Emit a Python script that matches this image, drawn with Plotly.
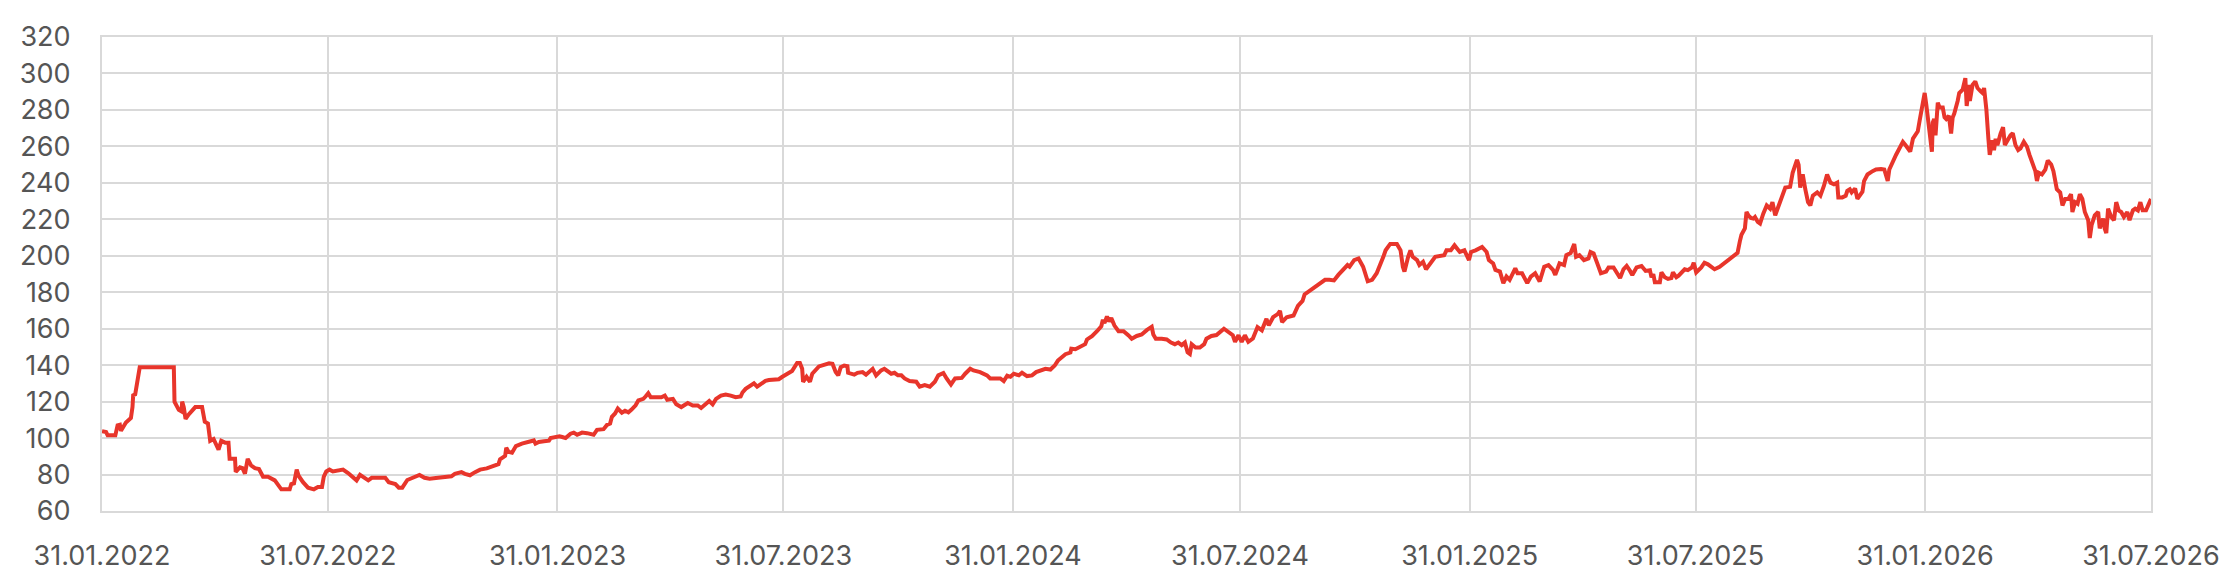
import pandas as pd
import plotly.graph_objects as go

# Tick dates (half-yearly) and their labels
tick_dates = ["2022-01-31", "2022-07-31", "2023-01-31", "2023-07-31", "2024-01-31",
              "2024-07-31", "2025-01-31", "2025-07-31", "2026-01-31", "2026-07-31"]
tick_labels = ["31.01.2022", "31.07.2022", "31.01.2023", "31.07.2023", "31.01.2024",
               "31.07.2024", "31.01.2025", "31.07.2025", "31.01.2026", "31.07.2026"]

# Time position of each observation, in half-years after 31.01.2022
t_pos = [
    0, 0.018, 0.025, 0.059, 0.069, 0.079, 0.084, 0.094, 0.106, 0.128, 0.135, 0.138, 0.147, 0.167,
    0.318, 0.321, 0.333, 0.340, 0.352, 0.355, 0.362, 0.370, 0.384, 0.413, 0.443, 0.455, 0.469,
    0.479, 0.494, 0.516, 0.528, 0.545, 0.560, 0.565, 0.589, 0.592, 0.611, 0.622, 0.633, 0.645,
    0.660, 0.677, 0.695, 0.713, 0.735, 0.765, 0.794, 0.831, 0.838, 0.85, 0.862, 0.871, 0.89,
    0.912, 0.938, 0.956, 0.974, 0.982, 0.993, 1.007, 1.022, 1.044, 1.066, 1.088, 1.11, 1.125,
    1.14, 1.154, 1.176, 1.191, 1.25, 1.265, 1.294, 1.309, 1.324, 1.346,
    # 2022 H2 - 2023 H1
    1.399, 1.421, 1.443, 1.480, 1.538, 1.553, 1.582, 1.597, 1.619, 1.641, 1.663, 1.692, 1.721,
    1.743, 1.750, 1.772, 1.777, 1.787, 1.802, 1.819, 1.845, 1.875, 1.897, 1.904, 1.919, 1.941,
    1.963, 1.970, 1.992, 2.009, 2.021, 2.036, 2.058, 2.072, 2.087, 2.109, 2.131, 2.160, 2.175,
    2.204, 2.219, 2.233, 2.241, 2.255, 2.267, 2.285, 2.299, 2.314, 2.328, 2.346, 2.358, 2.380,
    2.390, 2.402, 2.413, 2.438, 2.460, 2.475, 2.486, 2.511, 2.526, 2.548, 2.577, 2.599, 2.621,
    2.636, 2.658, 2.672, 2.687, 2.702, 2.724, 2.745, 2.767, 2.789, 2.811, 2.819, 2.833, 2.855,
    2.870, 2.884, 2.899, 2.921, 2.936, 2.958, 2.980, 2.994, 3.016, 3.038, 3.060,
    # 2023 H2 - 2024 H1
    3.072, 3.082, 3.086, 3.101, 3.116, 3.126, 3.140, 3.155, 3.177, 3.199, 3.214, 3.228, 3.239,
    3.250, 3.265, 3.279, 3.282, 3.309, 3.323, 3.345, 3.360, 3.375, 3.389, 3.404, 3.426, 3.440,
    3.455, 3.470, 3.484, 3.499, 3.514, 3.528, 3.550, 3.579, 3.594, 3.616, 3.638, 3.660, 3.675,
    3.697, 3.711, 3.730, 3.748, 3.777, 3.792, 3.814, 3.828, 3.857, 3.887, 3.901, 3.923, 3.945,
    3.960, 3.975, 3.989, 4.004, 4.026, 4.040, 4.062, 4.084, 4.102, 4.121, 4.143, 4.165, 4.184,
    4.198, 4.216, 4.231, 4.253, 4.257, 4.275, 4.296, 4.318, 4.326, 4.348, 4.370, 4.389, 4.396,
    4.403, 4.414, 4.424, 4.433, 4.447, 4.465, 4.487, 4.509, 4.523, 4.545, 4.567, 4.589, 4.611,
    4.618, 4.629, 4.655, 4.677, 4.696, 4.713, 4.728, 4.743, 4.757, 4.769, 4.779, 4.787, 4.804,
    4.823, 4.842, 4.852, 4.874, 4.896,
    # 2024 H2 - 2025 H2
    4.929, 4.948, 4.968, 4.978, 4.993, 5.007, 5.021, 5.036, 5.056, 5.076, 5.095, 5.115, 5.125,
    5.144, 5.164, 5.174, 5.183, 5.203, 5.233, 5.252, 5.272, 5.281, 5.301, 5.321, 5.350, 5.370,
    5.389, 5.409, 5.428, 5.448, 5.468, 5.477, 5.497, 5.516, 5.536, 5.556, 5.575, 5.595, 5.614,
    5.624, 5.634, 5.654, 5.683, 5.699, 5.709, 5.716, 5.732, 5.742, 5.752, 5.771, 5.781, 5.797,
    5.810, 5.830, 5.850, 5.889, 5.899, 5.918, 5.934, 5.957, 5.977, 5.997, 6.006, 6.026, 6.055,
    6.075, 6.085, 6.104, 6.114, 6.134, 6.149, 6.163, 6.177, 6.202, 6.212, 6.232, 6.255, 6.271,
    6.290, 6.310, 6.330, 6.349, 6.369, 6.379, 6.398, 6.418, 6.428, 6.447, 6.463, 6.471, 6.486,
    6.506, 6.526, 6.535, 6.549, 6.565, 6.581, 6.604,
    6.615, 6.637, 6.652, 6.666, 6.681, 6.695, 6.710, 6.720, 6.739, 6.761, 6.779, 6.798, 6.805,
    6.813, 6.820, 6.842, 6.849, 6.864, 6.878, 6.893, 6.900, 6.915, 6.925, 6.937, 6.952, 6.966,
    6.984, 6.992, 7.003, 7.025, 7.039, 7.054, 7.069, 7.083, 7.105, 7.127, 7.145, 7.164, 7.183,
    7.193, 7.200, 7.215, 7.222, 7.230, 7.241, 7.252, 7.259, 7.271, 7.281, 7.295, 7.310, 7.325,
    7.335, 7.347, 7.361, 7.376, 7.391, 7.412, 7.423, 7.442, 7.449, 7.456, 7.467, 7.478, 7.490,
    7.500, 7.511, 7.530, 7.544, 7.559, 7.573, 7.588, 7.603, 7.617, 7.622, 7.639, 7.654, 7.661,
    7.672, 7.680, 7.695, 7.705, 7.715, 7.727, 7.734, 7.749, 7.771, 7.786, 7.808, 7.822, 7.837,
    7.844, 7.873, 7.903,
    # 2026
    7.920, 7.935, 7.947, 7.961, 7.968, 7.976, 7.988, 7.998, 8.005, 8.020, 8.030, 8.034, 8.040,
    8.046, 8.056, 8.064, 8.078, 8.086, 8.093, 8.105, 8.115, 8.122, 8.129, 8.144, 8.151, 8.166,
    8.178, 8.184, 8.195, 8.198, 8.210, 8.222, 8.232, 8.246, 8.254, 8.261, 8.271, 8.280, 8.286,
    8.298, 8.305, 8.312, 8.320, 8.334, 8.345, 8.353, 8.364, 8.378, 8.388, 8.400, 8.412, 8.422,
    8.437, 8.451, 8.462, 8.473, 8.488, 8.495, 8.503, 8.517, 8.532, 8.543, 8.558, 8.568, 8.583,
    8.598, 8.608, 8.620, 8.634, 8.646, 8.652, 8.664, 8.675, 8.685, 8.696, 8.707, 8.722, 8.729,
    8.737, 8.751, 8.766, 8.773, 8.788, 8.795, 8.802, 8.810, 8.824, 8.836, 8.846, 8.857, 8.868,
    8.880, 8.895, 8.905, 8.920, 8.930, 8.942, 8.953, 8.963, 8.978, 8.985, 9.0,
]

values = [
    103.8, 103.3, 101.5, 101.5, 107, 107.3, 104, 106, 108.5, 111, 117, 123.5, 124, 138.8,
    138.8, 120, 117, 115.5, 114.6, 120, 117, 110.5, 113, 117, 117, 109, 108,
    98.5, 99.5, 93.6, 98.5, 97.5, 97.5, 88.6, 88.6, 81.4, 84, 83.5, 80.5, 88.6,
    85, 83.5, 83, 78.8, 78.8, 76.8, 71.9, 71.9, 74.8, 75.2, 82.7, 79.2, 75.8,
    72.8, 71.9, 73.2, 73.2, 78.8, 81.7, 82.7, 81.7, 82.3, 82.7, 80.8, 78.8, 76.8,
    79.8, 78.8, 76.8, 78.2, 78.2, 75.8, 74.8, 72.8, 72.8, 77,
    79.8, 78.2, 77.7, 78.2, 79, 80.4, 81.3, 80.4, 79.6, 81.3, 82.7, 83.4, 84.8,
    85.7, 88.4, 90.2, 94.7, 92.4, 92, 95.6, 97, 98.3, 98.7, 97, 97.9, 98.3,
    98.6, 100, 100.6, 101, 100.6, 100, 102.4, 103, 101.8, 103, 102.7, 101.8, 104.5,
    104.9, 107.2, 108, 111.7, 113.5, 116.2, 113.9, 115, 114.1, 115.6, 118, 120.6, 121.5,
    122.8, 124.6, 122.4, 122.4, 122.4, 123.3, 121, 121.5, 118.5, 117, 119.2, 117.9, 117.9,
    116.5, 119.2, 120.3, 118.5, 121.5, 123.3, 123.9, 123.3, 122.4, 122.8, 125, 127, 128.6,
    130, 128.2, 129.6, 131.4, 131.8, 131.8, 132.3, 133.5, 135, 136.8, 141.2,
    141.2, 138, 130.9, 133.6, 130.9, 135.3, 137.1, 139.3, 140.2, 141, 140.7, 136.2, 134.4,
    138.9, 139.8, 139.4, 135.8, 134.8, 135.8, 136.2, 134.8, 136.6, 138, 134.4, 137.1, 138,
    136.6, 135.3, 135.8, 134.4, 134.4, 132.7, 131.3, 130.9, 128.2, 129.1, 128.2, 130.9, 134.4,
    135.7, 132.7, 129.4, 132.7, 133, 135.3, 138, 137.1, 136.2, 134.4, 132.7, 132.7, 132.7,
    131.3, 134.2, 133.6, 135.3, 134.4, 135.8, 134, 134.4, 136.2, 137.1, 138, 137.6, 139.8,
    142.5, 144.8, 146, 146.9, 149, 148.7, 150.2, 151.5, 154.1, 155.9, 158.6, 161.3, 164.9,
    163.1, 166.7, 164, 165.8, 161.7, 158.6, 158.6, 156.3, 154.5, 156, 156.8, 159.2, 161,
    156.8, 154.5, 154.5, 154.1, 152.4, 151.5, 152.4, 151, 152.4, 147, 146.1, 151.5, 149.7,
    149.7, 151.5, 154.5, 156, 156.5,
    160, 158.2, 156.4, 152.8, 156.4, 152.8, 156.4, 152.8, 154.6, 160.9, 159.1, 165.4, 161.8,
    166.3, 168, 169.8, 163.6, 166.3, 167.2, 172.5, 175.2, 178.8, 180.6, 182.4, 185, 186.8,
    186.8, 186.5, 189.5, 192.2, 194.9, 194, 197.6, 198.5, 194, 186, 186.8, 190.4, 195.8,
    199.4, 203, 206.5, 206.5, 203, 194, 191.3, 199.4, 203, 199.4, 197.6, 194.9, 196.7,
    192.6, 195.8, 199.4, 200.3, 203, 203, 205.7, 202.1, 203, 197.6, 202.1, 203, 204.8,
    202.1, 197.6, 195.8, 192.2, 191.3, 185, 188.6, 186.8, 193.1, 190.4, 190.4, 185, 188.6,
    190.4, 185.9, 194, 194.9, 192.2, 189.5, 195.8, 194.9, 200.3, 201.5, 206.5, 199.4, 200.3,
    197.6, 198.5, 202, 201.2, 195.8, 190.4, 191.3,
    193.6, 193.6, 190.9, 187.8, 192.6, 194.4, 191.7, 189.5, 193.6, 194.4, 191.7, 192.1, 188.2,
    189.9, 185.5, 185.5, 190.9, 188.2, 187.3, 187.8, 190.9, 188.2, 189.1, 190.9, 192.6, 192.1,
    193.6, 196.2, 190.9, 193.6, 196.2, 195.3, 193.6, 192.6, 193.9, 196.2, 197.5, 199.8, 201.6,
    207.9, 211.5, 215, 224, 222.2, 220.8, 220.4, 221.3, 218.6, 217.7, 223.1, 227.6, 225.8,
    229.4, 222.2, 227.6, 233, 237.4, 237.8, 245.5, 252.6, 249.9, 237.4, 244.6, 236.5, 229.4,
    227.6, 233, 234.8, 233, 238.3, 244.6, 240.1, 239.2, 240.1, 232, 232, 232.9, 235.6,
    236.5, 234.8, 236.9, 231.2, 232.9, 235.1, 241, 244.6, 246.4, 247.3, 247.6, 247.3, 241,
    247.3, 255.3, 262.5,
    259.8, 257.1, 264.3, 267.3, 268.3, 274.1, 281.3, 289.3, 283, 268.7, 257.1, 273.2, 275,
    266, 284, 281.3, 281.3, 275.9, 275, 276.8, 267, 275.9, 278, 284.9, 289.3, 291.1,
    297.4, 282.2, 293.8, 284.9, 293.8, 295.6, 292, 290.2, 289.3, 292, 280.4, 264.3, 255.3,
    263.4, 257.9, 264.2, 260.7, 267, 270.5, 260.7, 263.4, 266.1, 267.3, 260.7, 258, 258.9,
    262.5, 259.8, 255.3, 250.8, 246.4, 241, 245.5, 244.6, 247.3, 252.3, 250.1, 246.4, 236.5,
    234.7, 227.6, 231.2, 231.2, 233.8, 224, 229.4, 228.5, 233.8, 231.2, 224, 219.5, 209.7,
    216.8, 222.2, 224, 215, 220.4, 215, 212.4, 225.8, 221.3, 219.5, 229.4, 224.9, 224,
    221.3, 224, 219.5, 224.9, 225.8, 224.9, 229.4, 224.9, 224.9, 226.7, 231.2,
]

y_ticks = [60, 80, 100, 120, 140, 160, 180, 200, 220, 240, 260, 280, 300, 320]

ticks = pd.to_datetime(tick_dates)


def to_date(t):
    i = min(int(t), len(ticks) - 2)
    return ticks[i] + (ticks[i + 1] - ticks[i]) * (t - i)


dates = [to_date(t) for t in t_pos]

GRID = "#d9d9d9"
TXT = "#555555"
FONT = "Inter, Roboto, sans-serif"

fig = go.Figure()
fig.add_trace(go.Scatter(
    x=dates, y=values, mode="lines",
    line=dict(color="#e8352b", width=4),
    hoverinfo="skip",
))

fig.update_layout(
    width=2239, height=576,
    margin=dict(l=93, r=96, t=28, b=64),
    paper_bgcolor="white", plot_bgcolor="white",
    showlegend=False,
    font=dict(family=FONT, size=27, color=TXT),
)
fig.update_xaxes(
    type="date",
    range=[ticks[0], ticks[-1]],
    tickmode="array", tickvals=list(ticks), ticktext=tick_labels,
    showgrid=True, gridcolor=GRID, gridwidth=2,
    showline=True, linecolor=GRID, linewidth=2, mirror=True,
    ticks="", ticklabelstandoff=20,
    tickfont=dict(family=FONT, size=27, color=TXT),
    zeroline=False,
)
fig.update_yaxes(
    range=[60, 320],
    tickmode="array", tickvals=y_ticks,
    showgrid=True, gridcolor=GRID, gridwidth=2,
    showline=True, linecolor=GRID, linewidth=2, mirror=True,
    ticks="", ticklabelstandoff=24,
    tickfont=dict(family=FONT, size=27, color=TXT),
    zeroline=False,
)

fig.write_html("out.html")
